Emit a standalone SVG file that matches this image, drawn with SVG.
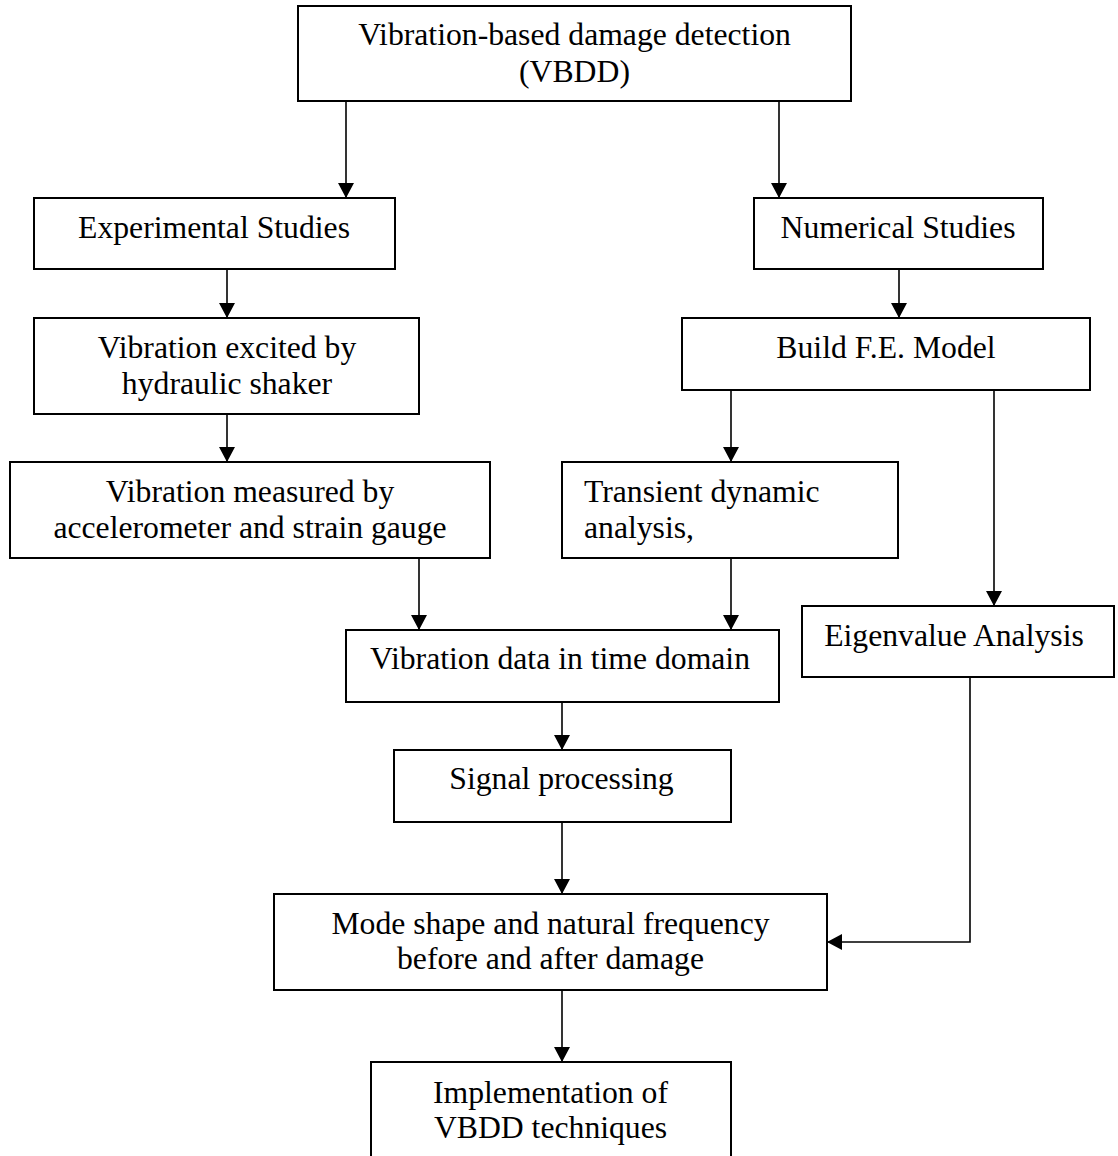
<svg xmlns="http://www.w3.org/2000/svg" width="1118" height="1156" viewBox="0 0 1118 1156">
<style>
.box{fill:#fff;stroke:#000;stroke-width:2}
.t{font-family:"Liberation Serif","Times New Roman",serif;font-size:31.7px;fill:#000;text-anchor:middle}
.ts{text-anchor:start}
.c{fill:none;stroke:#000;stroke-width:1.6}
</style>
<defs>
<marker id="ah" markerUnits="userSpaceOnUse" markerWidth="16" markerHeight="16" refX="15" refY="8" orient="auto">
<path d="M0,0 L15,8 L0,16 Z" fill="#000"/>
</marker>
</defs>
<rect width="1118" height="1156" fill="#fff"/>
<g id="connectors">
<line class="c" x1="346" y1="101" x2="346" y2="198" marker-end="url(#ah)"/>
<line class="c" x1="779" y1="101" x2="779" y2="198" marker-end="url(#ah)"/>
<line class="c" x1="227" y1="269" x2="227" y2="318" marker-end="url(#ah)"/>
<line class="c" x1="899" y1="269" x2="899" y2="318" marker-end="url(#ah)"/>
<line class="c" x1="227" y1="414" x2="227" y2="462" marker-end="url(#ah)"/>
<line class="c" x1="731" y1="390" x2="731" y2="462" marker-end="url(#ah)"/>
<line class="c" x1="994" y1="390" x2="994" y2="606" marker-end="url(#ah)"/>
<line class="c" x1="419" y1="558" x2="419" y2="630" marker-end="url(#ah)"/>
<line class="c" x1="731" y1="558" x2="731" y2="630" marker-end="url(#ah)"/>
<line class="c" x1="562" y1="702" x2="562" y2="750" marker-end="url(#ah)"/>
<line class="c" x1="562" y1="822" x2="562" y2="894" marker-end="url(#ah)"/>
<polyline class="c" points="970,677 970,942 827,942" marker-end="url(#ah)"/>
<line class="c" x1="562" y1="990" x2="562" y2="1062" marker-end="url(#ah)"/>
</g>
<g id="vbdd">
<rect class="box" x="298" y="6" width="553" height="95"/>
<text class="t" x="574.5" y="45">Vibration-based damage detection</text>
<text class="t" x="574.5" y="82">(VBDD)</text>
</g>
<g id="experimental">
<rect class="box" x="34" y="198" width="361" height="71"/>
<text class="t" x="214" y="237.5">Experimental Studies</text>
</g>
<g id="numerical">
<rect class="box" x="754" y="198" width="289" height="71"/>
<text class="t" x="898" y="237.5">Numerical Studies</text>
</g>
<g id="excited">
<rect class="box" x="34" y="318" width="385" height="96"/>
<text class="t" x="227" y="357.5">Vibration excited by</text>
<text class="t" x="227" y="394">hydraulic shaker</text>
</g>
<g id="femodel">
<rect class="box" x="682" y="318" width="408" height="72"/>
<text class="t" x="886" y="357.5">Build F.E. Model</text>
</g>
<g id="measured">
<rect class="box" x="10" y="462" width="480" height="96"/>
<text class="t" x="250" y="501.5">Vibration measured by</text>
<text class="t" x="250" y="538">accelerometer and strain gauge</text>
</g>
<g id="transient">
<rect class="box" x="562" y="462" width="336" height="96"/>
<text class="t ts" x="584" y="501.5">Transient dynamic</text>
<text class="t ts" x="584" y="538">analysis,</text>
</g>
<g id="eigen">
<rect class="box" x="802" y="606" width="312" height="71"/>
<text class="t" x="954" y="645.5">Eigenvalue Analysis</text>
</g>
<g id="timedomain">
<rect class="box" x="346" y="630" width="433" height="72"/>
<text class="t" x="560" y="668.5">Vibration data in time domain</text>
</g>
<g id="signal">
<rect class="box" x="394" y="750" width="337" height="72"/>
<text class="t" x="561.5" y="789">Signal processing</text>
</g>
<g id="mode">
<rect class="box" x="274" y="894" width="553" height="96"/>
<text class="t" x="550.5" y="934">Mode shape and natural frequency</text>
<text class="t" x="550.5" y="968.5">before and after damage</text>
</g>
<g id="implementation">
<rect class="box" x="371" y="1062" width="360" height="110"/>
<text class="t" x="550.5" y="1102.5">Implementation of</text>
<text class="t" x="550.5" y="1137.5">VBDD techniques</text>
</g>
</svg>
